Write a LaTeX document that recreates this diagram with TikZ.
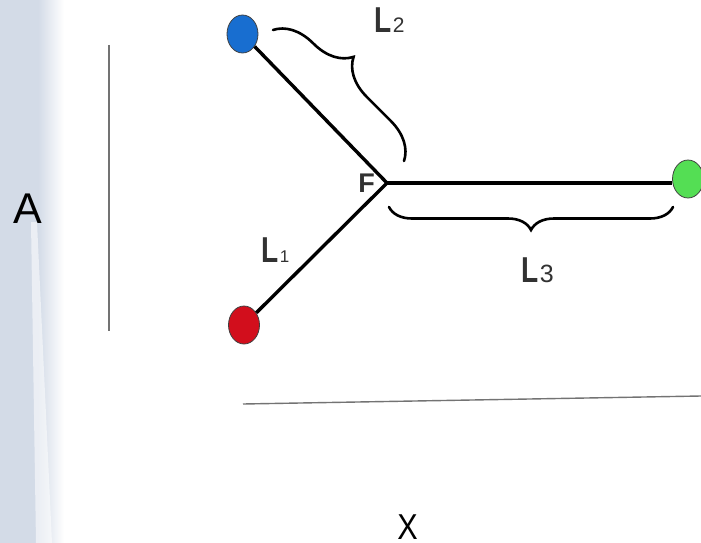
\documentclass[tikz,border=0pt]{standalone}
\usepackage{fontspec}
\usepackage{graphicx}
\setmainfont{Liberation Sans}
\usetikzlibrary{decorations.pathreplacing,shapes.geometric}
\definecolor{bgblue}{RGB}{211,219,231}
\definecolor{atomblue}{RGB}{24,110,208}
\definecolor{atomred}{RGB}{210,14,28}
\definecolor{atomgreen}{RGB}{84,222,84}
\definecolor{labelgray}{RGB}{50,50,50}
% condensed bold "L" with a smaller index digit
\newcommand{\lenlabel}[2]{\scalebox{0.78}[1]{\bfseries\fontsize{36}{36}\selectfont L}\hspace{1.5pt}{\fontseries{m}\fontsize{#2}{#2}\selectfont #1}}
\begin{document}
\begin{tikzpicture}[x=1pt,y=-1pt,
  atom/.style={ellipse, draw=black!75, line width=0.8pt, inner sep=0pt,
               minimum width=31pt, minimum height=38pt},
  bond/.style={line width=3.4pt, black},
  axisline/.style={line width=1.4pt, black!55},
  brc/.style={decorate, line width=2.6pt, line cap=round, black},
  lbl/.style={text=labelgray, inner sep=0pt},
  axlabel/.style={inner sep=0pt}]
\useasboundingbox (0,0) rectangle (701,543);
% slide background band on the left
\fill[bgblue] (0,0) rectangle (38,543);
\shade[left color=bgblue, right color=white] (38,0) rectangle (64,543);
\fill[white, opacity=0.55] (31,222) -- (37,222) -- (52,543) -- (36,543) -- cycle;
% axes
\coordinate (ytop) at (109,45);
\coordinate (ybot) at (109,331);
\draw[axisline] (ytop) -- (ybot);
\coordinate (xl) at (243,404);
\coordinate (xr) at (701,396);
\draw[axisline] (xl) -- (xr);
\node[axlabel, anchor=base, font=\fontsize{43}{43}\selectfont] (A) at (28.3,223) {A};
\node[axlabel, anchor=base, font=\fontsize{36}{36}\selectfont] (X) at (407.5,539) {\scalebox{0.85}[1]{X}};
% molecule
\coordinate (F) at (387,183);
\node[atom, fill=atomblue] (b) at (242.5,34) {};
\node[atom, fill=atomred] (r) at (244,325) {};
\node[atom, fill=atomgreen] (g) at (688,179) {};
\draw[bond] (b) -- (F);
\draw[bond] (r) -- (F);
\draw[bond] (F) -- (F -| g.west);
\node[lbl, anchor=base east, font=\bfseries\fontsize{27}{27}\selectfont] (Flab) at (375,192) {F};
% length braces
\coordinate (b2s) at (273,30);
\coordinate (b2e) at (404,161);
\draw[brc, decoration={brace, amplitude=38pt, aspect=0.41}] (b2s) -- (b2e);
\coordinate (b3s) at (673,207);
\coordinate (b3e) at (389,207);
\draw[brc, decoration={brace, amplitude=23pt}] (b3s) -- (b3e);
% labels
\node[lbl, anchor=base west] (L2) at (374,33) {\lenlabel{2}{21}};
\node[lbl, anchor=base west] (L1) at (261,262) {\lenlabel{1}{17}};
\node[lbl, anchor=base west] (L3) at (521,282) {\lenlabel{3}{25}};
\end{tikzpicture}
\end{document}
